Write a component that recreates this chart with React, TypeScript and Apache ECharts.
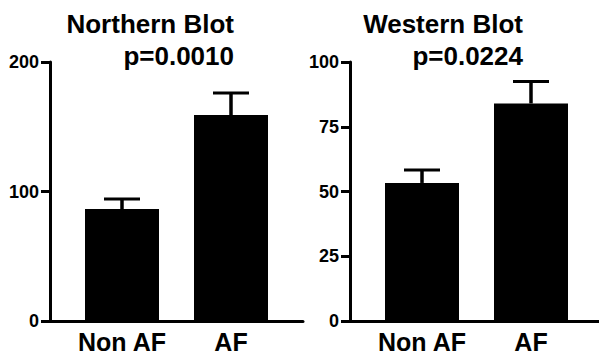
import React, { useEffect, useRef } from "react";
import * as echarts from "echarts";

const categories = ["Non AF", "AF"];
const northernMeans = [86.5, 159];
const northernSEM = [7.7, 17];
const westernMeans = [53.3, 84];
const westernSEM = [5, 8.5];
const northernTicks = { min: 0, max: 200, interval: 100 };
const westernTicks = { min: 0, max: 100, interval: 25 };
const titles = ["Northern Blot", "Western Blot"];
const pValues = ["p=0.0010", "p=0.0224"];

const FONT = '"Liberation Sans", Arial, Helvetica, sans-serif';

export default function App() {
  const ref = useRef<HTMLDivElement>(null);
  useEffect(() => {
    if (!ref.current) return;
    const chart = echarts.init(ref.current, undefined, { renderer: "svg" });

    const panels = [
      { means: northernMeans, sem: northernSEM, ticks: northernTicks, axisLeft: 50, barLeft: 67.5, titleRight: 234 },
      { means: westernMeans, sem: westernSEM, ticks: westernTicks, axisLeft: 350, barLeft: 367.5, titleRight: 523 },
    ];

    const grid: any[] = [];
    const xAxis: any[] = [];
    const yAxis: any[] = [];
    const series: any[] = [];
    const graphic: any[] = [];

    panels.forEach((p, i) => {
      const gA = i * 2;
      const gB = i * 2 + 1;
      grid.push({ left: p.axisLeft, width: 253, top: 62, bottom: 33 });
      grid.push({ left: p.barLeft, width: 218, top: 62, bottom: 33 });
      xAxis.push({
        type: "value", gridIndex: gA, min: 0, max: 1,
        axisLine: { show: true, lineStyle: { color: "#000", width: 3 } },
        axisTick: { show: false }, axisLabel: { show: false }, splitLine: { show: false },
      });
      xAxis.push({
        type: "category", gridIndex: gB, data: categories,
        axisLine: { show: false }, axisTick: { show: false }, splitLine: { show: false },
        axisLabel: { interval: 0, color: "#000", fontSize: 25, fontWeight: "bold", fontFamily: FONT, margin: 8 },
      });
      yAxis.push({
        type: "value", gridIndex: gA, min: p.ticks.min, max: p.ticks.max, interval: p.ticks.interval,
        axisLine: { show: true, lineStyle: { color: "#000", width: 3 } },
        axisTick: { show: true, length: 9, lineStyle: { color: "#000", width: 3 } },
        axisLabel: { color: "#000", fontSize: 18, fontWeight: "bold", fontFamily: FONT, margin: 11 },
        splitLine: { show: false },
      });
      yAxis.push({
        type: "value", gridIndex: gB, min: p.ticks.min, max: p.ticks.max, interval: p.ticks.interval,
        show: false, splitLine: { show: false },
      });
      series.push({
        type: "bar", xAxisIndex: gB, yAxisIndex: gB, data: p.means, barWidth: 74,
        itemStyle: { color: "#000" },
      });
      series.push({
        type: "custom", xAxisIndex: gB, yAxisIndex: gB,
        data: p.means.map((m, k) => [k, m, m + p.sem[k]]),
        renderItem: (params: any, api: any) => {
          const base = api.coord([api.value(0), api.value(1)]);
          const top = api.coord([api.value(0), api.value(2)]);
          return {
            type: "group",
            children: [
              { type: "line", shape: { x1: base[0], y1: base[1], x2: top[0], y2: top[1] }, style: { stroke: "#000", lineWidth: 3.5 } },
              { type: "line", shape: { x1: top[0] - 18, y1: top[1], x2: top[0] + 18, y2: top[1] }, style: { stroke: "#000", lineWidth: 3 } },
            ],
          };
        },
      });
      graphic.push({
        type: "text", x: p.titleRight, y: 23.5,
        style: { text: titles[i], fill: "#000", font: `bold 26px ${FONT}`, textAlign: "right", textVerticalAlign: "middle" },
      });
      graphic.push({
        type: "text", x: p.titleRight, y: 55.5,
        style: { text: pValues[i], fill: "#000", font: `bold 26px ${FONT}`, textAlign: "right", textVerticalAlign: "middle" },
      });
    });

    chart.setOption({
      animation: false,
      backgroundColor: "#fff",
      grid, xAxis, yAxis, series, graphic,
    });
    return () => chart.dispose();
  }, []);
  return <div ref={ref} style={{ position: "fixed", left: 0, top: 0, width: 599, height: 354 }} />;
}
